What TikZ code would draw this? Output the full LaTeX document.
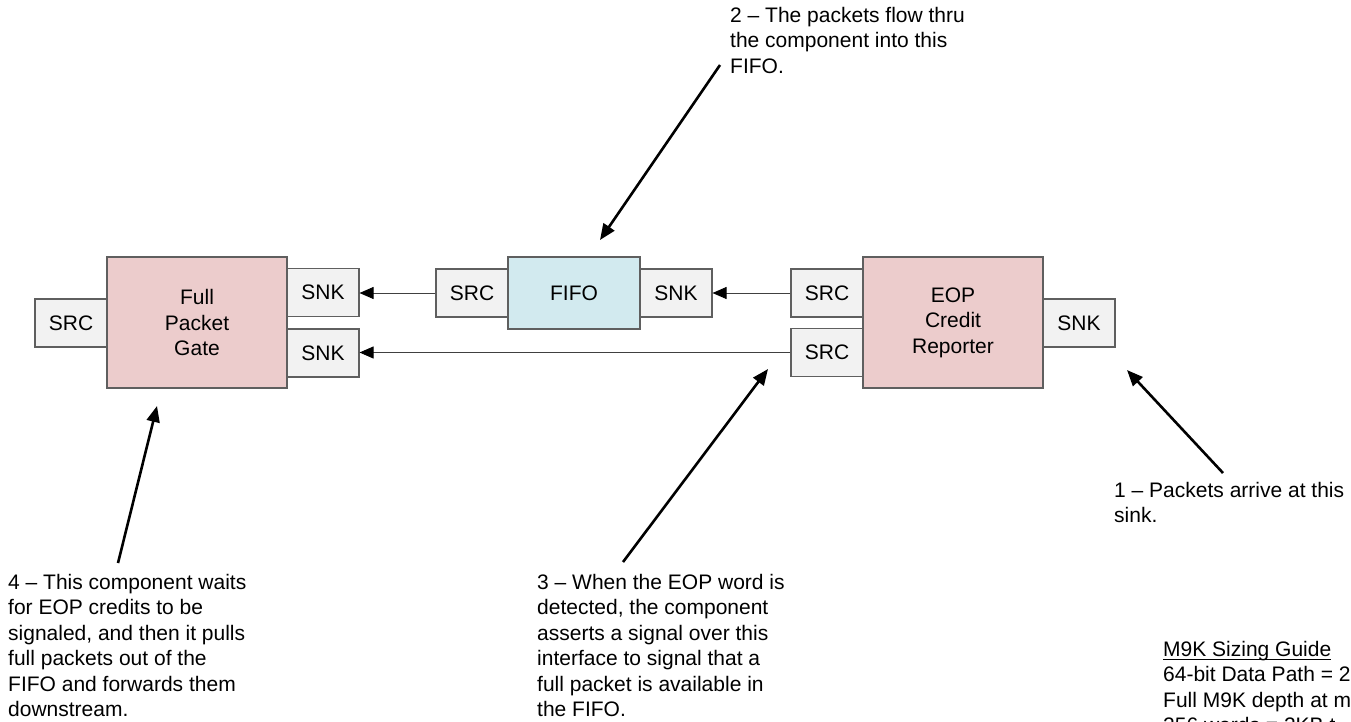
\documentclass[tikz,border=0pt]{standalone}
\usepackage{fontspec}
\setmainfont{Liberation Sans}
\usetikzlibrary{arrows.meta}
\definecolor{pinkfill}{RGB}{236,204,204}
\definecolor{bluefill}{RGB}{210,234,239}
\definecolor{portfill}{RGB}{242,242,242}
\definecolor{edgegray}{RGB}{95,95,95}
\newcommand\myul[1]{\setbox0\hbox{#1}\rlap{\rule[-3.6pt]{\wd0}{1.2pt}}\box0}
\begin{document}
\begin{tikzpicture}[x=1pt,y=-1pt,
  every node/.style={font=\fontsize{21}{25.5}\selectfont},
  box/.style={draw=edgegray, line width=1.1pt, inner sep=0pt, align=center},
  comp/.style={box, fill=pinkfill, minimum width=180pt, minimum height=131pt},
  fifobox/.style={box, fill=bluefill, minimum width=132pt, minimum height=72pt},
  port/.style={box, fill=portfill, minimum width=72pt, minimum height=48pt},
  link/.style={draw=black!75, line width=0.9pt, -{Triangle[length=14pt,width=12pt,color=black]}},
  callout/.style={line width=2.6pt, -{Triangle[length=16pt,width=13pt]}},
  note/.style={anchor=north west, inner sep=0pt, align=left}]
\useasboundingbox (0,0) rectangle (1351,721);

% Full Packet Gate
\node[comp] (fpg) at (197,322.5) {Full\\Packet\\Gate};
\node[port] (fpgsrc) at (71,323) {SRC};
\node[port] (fpgsnka) at (323,292.5) {SNK};
\node[port] (fpgsnkb) at (323,353) {SNK};

% FIFO
\node[fifobox] (fifo) at (574,293) {FIFO};
\node[port] (fifosrc) at (472,293) {SRC};
\node[port] (fifosnk) at (676,293) {SNK};

% EOP Credit Reporter
\node[comp] (eop) at (953,322.5) {EOP\\Credit\\Reporter};
\node[port] (eopsrca) at (827,293) {SRC};
\node[port] (eopsrcb) at (827,352.5) {SRC};
\node[port] (eopsnk) at (1079,323) {SNK};

% connectors
\draw[link] (fifosrc.west) -- (fpgsnka.east |- fifosrc.west);
\draw[link] (eopsrca.west) -- (fifosnk.east |- eopsrca.west);
\draw[link] (eopsrcb.west) -- (fpgsnkb.east |- eopsrcb.west);

% callout texts
\node[note] (n2) at (730,6.7) {2 – The packets flow thru\\the component into this\\FIFO.};
\node[note] (n1) at (1114,481.7) {1 – Packets arrive at this\\sink.};
\node[note] (n3) at (537,573.7) {3 – When the EOP word is\\detected, the component\\asserts a signal over this\\interface to signal that a\\full packet is available in\\the FIFO.};
\node[note] (n4) at (8,573.7) {4 – This component waits\\for EOP credits to be\\signaled, and then it pulls\\full packets out of the\\FIFO and forwards them\\downstream.};
\node[note] (m9k) at (1163,640.7) {\myul{M9K Sizing Guide}\\64-bit Data Path = 2\\Full M9K depth at m\\256 words = 2KB t};

% callout arrows
\coordinate (t2) at (720,65);   \coordinate (h2) at (600,240);
\coordinate (t1) at (1223,473); \coordinate (h1) at (1127,370);
\coordinate (t3) at (623,562);  \coordinate (h3) at (768,369);
\coordinate (t4) at (118,563);  \coordinate (h4) at (157,406);
\draw[callout] (t2) -- (h2);
\draw[callout] (t1) -- (h1);
\draw[callout] (t3) -- (h3);
\draw[callout] (t4) -- (h4);
\end{tikzpicture}
\end{document}
